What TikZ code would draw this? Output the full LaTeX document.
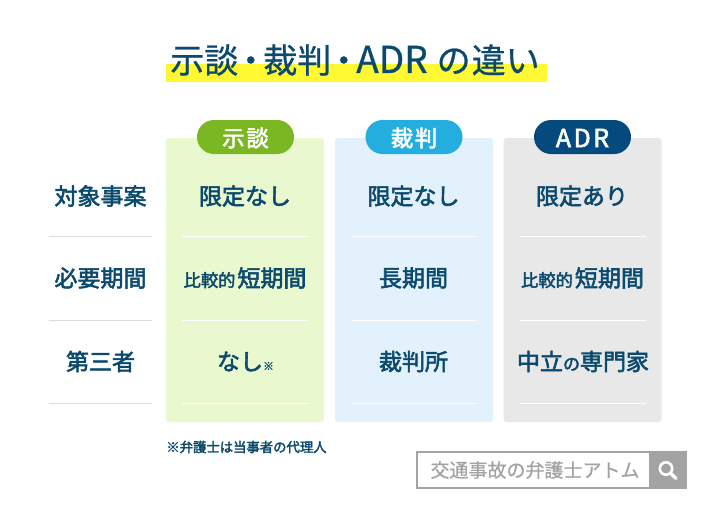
\documentclass[tikz,border=0pt]{standalone}
\usepackage{fontspec}
\setmainfont{Noto Sans CJK JP}
\newfontfamily\jpm{Noto Sans CJK JP}[FakeBold=2.4]
\newfontfamily\jpl{Noto Sans CJK JP}[FakeBold=0.7]
\definecolor{ink}{HTML}{0B4A6E}
\definecolor{yel}{HTML}{FFF833}
\definecolor{gcard}{HTML}{E9F8CF}
\definecolor{bcard}{HTML}{E2F1FB}
\definecolor{ycard}{HTML}{E8E8E8}
\definecolor{gpill}{HTML}{7AB723}
\definecolor{bpill}{HTML}{23AEDF}
\definecolor{npill}{HTML}{044A7C}
\definecolor{rule}{HTML}{DDDDDD}
\definecolor{srch}{HTML}{A3A3A3}
\newcommand{\fs}[1]{\fontsize{#1}{#1}\selectfont}
\tikzset{x=1pt,y=1pt,
  card/.style={rounded corners=3pt,draw=none},
  pill/.style={rounded corners=17pt,draw=none},
  lab/.style={inner sep=0pt,text=ink,anchor=center,font=\jpm\fs{23}},
  pilltext/.style={inner sep=0pt,text=white,anchor=center,font=\jpm\fs{22.5}},
  sepw/.style={white,line width=1pt},
  sepg/.style={rule,line width=1pt}}
\begin{document}
\begin{tikzpicture}
\useasboundingbox (0,0) rectangle (712,-504);
\fill[white] (0,0) rectangle (712,-504);
% title
\fill[yel] (166,-64) rectangle (547,-82);
\node[inner sep=0pt,anchor=center,text=ink,font=\jpl\fs{34}] (title) at (355,-60) {示談\hspace{-4.5pt}・\hspace{-4.5pt}裁判\hspace{-4.5pt}・\hspace{-4.5pt}{\fs{37}ADR}\hspace{9pt}の\hspace{1pt}違い};
% cards
\fill[gcard,card] (166,-138) rectangle (324,-422);
\fill[bcard,card] (335,-138) rectangle (493,-422);
\fill[ycard,card] (503.5,-138) rectangle (661.5,-422);
% pills
\fill[gpill,pill] (197,-120) rectangle (294,-154);
\fill[bpill,pill] (365.5,-120) rectangle (462.5,-154);
\fill[npill,pill] (534,-120) rectangle (631,-154);
\node[pilltext] (p1) at (245.5,-138) {示\hspace{1.5pt}談};
\node[pilltext] (p2) at (414,-138) {裁\hspace{1.5pt}判};
\node[pilltext,font=\jpm\fs{25}] (p3) at (582.5,-138) {A\hspace{2.5pt}D\hspace{2.5pt}R};
% row labels
\node[lab] (r1) at (100.5,-196) {対象事案};
\node[lab] (r2) at (100.5,-278) {必要期間};
\node[lab] (r3) at (100.5,-361.5) {第三者};
\foreach \y in {-236.5,-320,-403.5}{
  \draw[sepg] (49,\y) -- (152,\y);
  \draw[sepw] (182,\y) -- (308,\y);
  \draw[sepw] (351,\y) -- (477,\y);
  \draw[sepw] (520,\y) -- (646,\y);
}
% column 1
\node[lab] (a1) at (245,-196) {限定なし};
\node[lab] (a2) at (245,-278) {{\fs{17.3}比較的}\hspace{2pt}短期間};
\node[lab] (a3) at (245.5,-361.5) {なし\hspace{0pt}{\jpl\fs{11}※}};
% column 2
\node[lab] (b1) at (413.5,-196) {限定なし};
\node[lab] (b2) at (413.5,-278) {長期間};
\node[lab] (b3) at (413.5,-361.5) {裁判所};
% column 3
\node[lab] (c1) at (582,-196) {限定あり};
\node[lab] (c2) at (582.5,-278) {{\fs{17.3}比較的}\hspace{2pt}短期間};
\node[lab] (c3) at (583,-361.5) {中立{\fs{17}の}専門家};
% footnote
\node[inner sep=0pt,anchor=center,text=ink,font=\jpm\fs{13.35}] (fn) at (246.5,-447) {※弁護士は当事者の代理人};
% search box
\draw[srch,line width=2pt,fill=white] (417,-452) rectangle (686,-487.5);
\fill[srch] (649,-451) rectangle (687,-488.5);
\node[inner sep=0pt,anchor=center,text=srch,font=\jpl\fs{19}] (st) at (535,-470) {交通事故の弁護士アトム};
\draw[white,line width=2.6pt] (666,-468.5) circle (6.2);
\draw[white,line width=3.2pt,line cap=round] (671,-473.5) -- (676,-478.5);
\end{tikzpicture}
\end{document}
